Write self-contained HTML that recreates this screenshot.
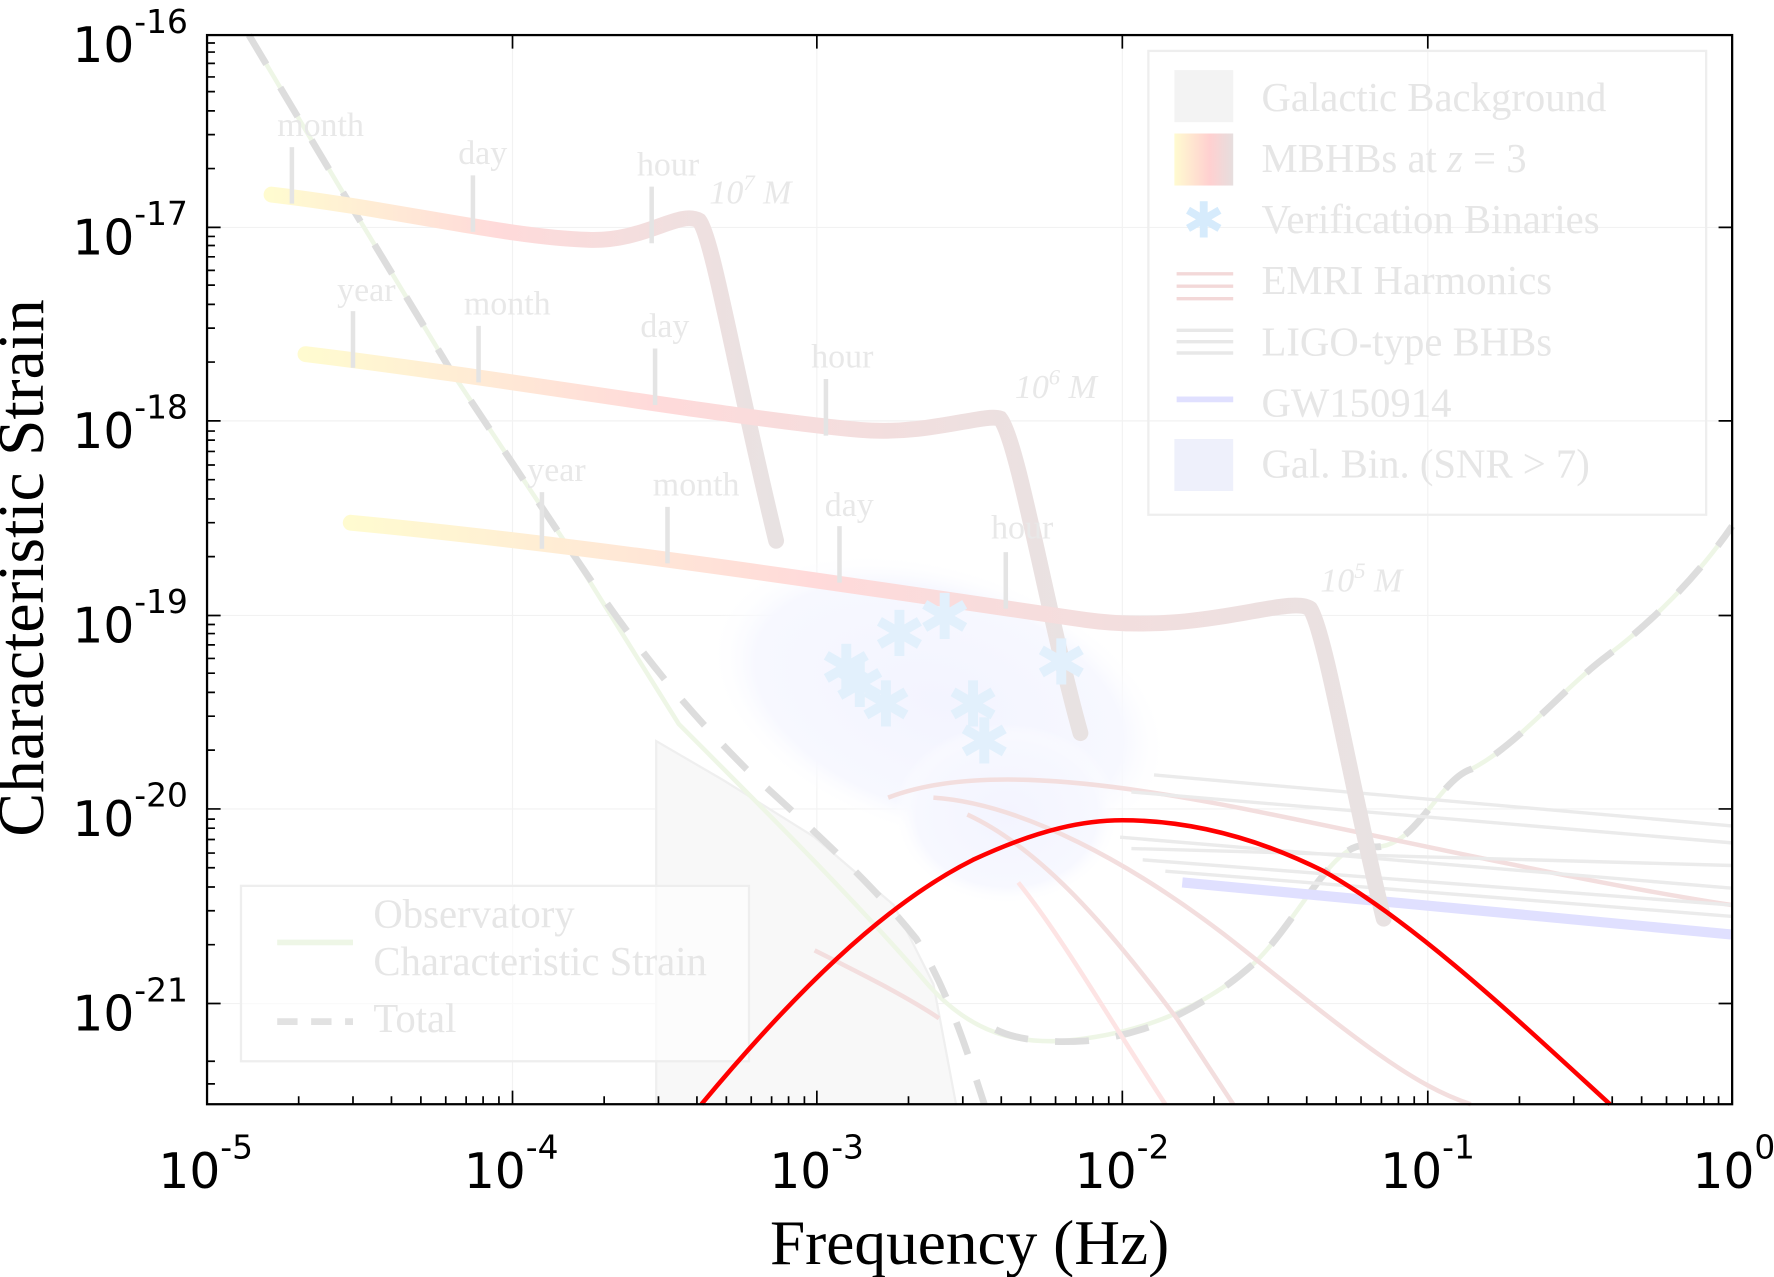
<!DOCTYPE html>
<html><head><meta charset="utf-8"><style>
html,body{margin:0;padding:0;background:#fff;}
svg{display:block;}
.tk{font-family:"DejaVu Sans","Liberation Sans",sans-serif;font-size:43px;fill:#000;}
.sp{font-size:29px;}
.ser{font-family:"Liberation Serif",serif;}
.fl{fill:#e8e8e8;font-family:"Liberation Serif",serif;font-size:30px;}
.lg{fill:#e6e6e6;font-family:"Liberation Serif",serif;font-size:36px;}
</style></head><body>
<svg width="1774" height="1277" viewBox="0 0 1774 1277" xmlns="http://www.w3.org/2000/svg">
<defs>
<linearGradient id="g1" x1="0" x2="1" y1="0" y2="0">
<stop offset="0" stop-color="#fffbd0"/><stop offset="0.45" stop-color="#ffdada"/><stop offset="1" stop-color="#e8e2e2"/></linearGradient>
<linearGradient id="lgmb" x1="0" x2="1"><stop offset="0" stop-color="#fffbd0"/><stop offset="0.6" stop-color="#ffd0d0"/><stop offset="1" stop-color="#e6dede"/></linearGradient>
<radialGradient id="cl" cx="0.5" cy="0.5" r="0.5"><stop offset="0" stop-color="#f3f4ff"/><stop offset="0.8" stop-color="#f7f8ff"/><stop offset="1" stop-color="#fff" stop-opacity="0"/></radialGradient>
</defs>
<g transform="scale(1.13138)">
<g stroke="#f2f2f2" stroke-width="1">
<line x1="183" x2="1531" y1="201" y2="201"/><line x1="183" x2="1531" y1="372" y2="372"/><line x1="183" x2="1531" y1="544" y2="544"/><line x1="183" x2="1531" y1="715" y2="715"/><line x1="183" x2="1531" y1="887" y2="887"/>
<line x1="453" x2="453" y1="31" y2="976"/><line x1="722" x2="722" y1="31" y2="976"/><line x1="992" x2="992" y1="31" y2="976"/><line x1="1262" x2="1262" y1="31" y2="976"/>
</g>
<polygon points="580,655 640,690 720,740 790,800 825,870 845,976 580,976" fill="#f8f8f8" stroke="#efefef" stroke-width="2"/>
<ellipse cx="830" cy="620" rx="210" ry="120" fill="url(#cl)" transform="rotate(18 830 620)"/>
<ellipse cx="890" cy="720" rx="100" ry="80" fill="url(#cl)"/>
<path d="M220,31 L300,165 L400,330 L500,480 L600,640 C680,720 760,800 820,870 C860,915 900,922 940,920 C1000,915 1060,895 1110,850 C1150,810 1180,740 1210,748 C1250,755 1270,690 1300,680 C1340,660 1380,610 1420,580 C1460,550 1500,510 1531,465" fill="none" stroke="#eef6e6" stroke-width="4"/>
<path d="M220,31 L300,165 L400,330 L500,480 C560,570 600,620 660,680 C720,735 770,780 810,830 C840,880 855,930 870,976" fill="none" stroke="#dddddd" stroke-width="6" stroke-dasharray="30,24"/>
<path d="M880,910 C900,920 930,922 960,920 C1010,915 1060,895 1110,850 C1150,810 1180,740 1210,748 C1250,755 1270,690 1300,680 C1340,660 1380,610 1420,580 C1460,550 1500,510 1531,465" fill="none" stroke="#dddddd" stroke-width="6" stroke-dasharray="30,24"/>
<g fill="none" stroke="#f3dede" stroke-width="4">
<path d="M785,705 C850,680 950,685 1100,715 S1400,780 1531,800"/>
<path d="M825,705 C900,710 1000,760 1100,840 S1250,960 1300,976"/>
<path d="M855,720 C920,750 980,820 1040,900 L1090,976"/>
<path d="M720,840 C760,860 800,880 830,900"/>
<path d="M900,780 C940,830 980,900 1030,976" stroke="#fde4e4"/>
</g>
<g stroke="#ebebeb" stroke-width="3">
<line x1="1020" y1="685" x2="1531" y2="730"/><line x1="1000" y1="700" x2="1531" y2="745"/>
<line x1="990" y1="740" x2="1531" y2="785"/><line x1="1010" y1="760" x2="1531" y2="800"/>
<line x1="1030" y1="770" x2="1531" y2="810"/><line x1="1000" y1="750" x2="1531" y2="765"/>
</g>
<line x1="1045" y1="780" x2="1531" y2="826" stroke="#e0e0ff" stroke-width="9"/>
<g fill="none" stroke-width="14" stroke-linecap="round">
<path d="M240,172 C350,185 450,210 520,212 C570,214 600,185 618,195 C630,210 650,330 686,478" stroke="url(#g1)"/>
<path d="M270,313 C450,335 650,370 760,380 C820,385 870,365 884,370 C900,390 925,540 955,648" stroke="url(#g1)"/>
<path d="M310,462 C550,485 800,525 960,548 C1060,562 1140,525 1158,538 C1172,560 1195,700 1223,812" stroke="url(#g1)"/>
</g>
<g stroke="#e4e4e4" stroke-width="4">
<line x1="258" y1="130" x2="258" y2="180"/><line x1="418" y1="155" x2="418" y2="205"/><line x1="576" y1="165" x2="576" y2="215"/>
<line x1="312" y1="275" x2="312" y2="325"/><line x1="423" y1="288" x2="423" y2="338"/><line x1="579" y1="308" x2="579" y2="358"/><line x1="730" y1="335" x2="730" y2="385"/>
<line x1="479" y1="435" x2="479" y2="485"/><line x1="590" y1="448" x2="590" y2="498"/><line x1="742" y1="465" x2="742" y2="515"/><line x1="889" y1="488" x2="889" y2="538"/>
</g>
<g class="fl">
<text x="245" y="120">month</text><text x="405" y="145">day</text><text x="563" y="155">hour</text><text x="627" y="180" font-style="italic">10<tspan dy="-12" font-size="20">7</tspan><tspan dy="12"> M</tspan></text>
<text x="298" y="266">year</text><text x="410" y="278">month</text><text x="566" y="298">day</text><text x="717" y="325">hour</text><text x="897" y="352" font-style="italic">10<tspan dy="-12" font-size="20">6</tspan><tspan dy="12"> M</tspan></text>
<text x="466" y="425">year</text><text x="577" y="438">month</text><text x="729" y="456">day</text><text x="876" y="476">hour</text><text x="1167" y="523" font-style="italic">10<tspan dy="-12" font-size="20">5</tspan><tspan dy="12"> M</tspan></text>
</g>
<g fill="#e2f0fc" font-family="DejaVu Sans" font-size="56" text-anchor="middle">
<text x="795" y="580">✱</text><text x="835" y="565">✱</text><text x="748" y="610">✱</text><text x="760" y="625">✱</text><text x="783" y="642">✱</text><text x="860" y="642">✱</text><text x="870" y="675">✱</text><text x="938" y="605">✱</text>
</g>
<rect x="1015" y="45" width="493" height="410" fill="none" stroke="#eeeeee" stroke-width="2"/>
<rect x="1038" y="62" width="52" height="46" fill="#f3f3f3"/>
<rect x="1038" y="118" width="52" height="46" fill="url(#lgmb)"/>
<text x="1064" y="210" fill="#d6ebfc" font-family="DejaVu Sans" font-size="44" text-anchor="middle">✱</text>
<g stroke="#f3d8d8" stroke-width="3"><line x1="1040" y1="242" x2="1090" y2="242"/><line x1="1040" y1="253" x2="1090" y2="253"/><line x1="1040" y1="264" x2="1090" y2="264"/></g>
<g stroke="#e8e8e8" stroke-width="3"><line x1="1040" y1="292" x2="1090" y2="292"/><line x1="1040" y1="302" x2="1090" y2="302"/><line x1="1040" y1="312" x2="1090" y2="312"/></g>
<line x1="1040" y1="353" x2="1090" y2="353" stroke="#e0e0ff" stroke-width="5"/>
<rect x="1038" y="388" width="52" height="46" fill="#eef0fb"/>
<g class="lg">
<text x="1115" y="98">Galactic Background</text>
<text x="1115" y="152">MBHBs at <tspan font-style="italic">z</tspan> = 3</text>
<text x="1115" y="206">Verification Binaries</text>
<text x="1115" y="260">EMRI Harmonics</text>
<text x="1115" y="314">LIGO-type BHBs</text>
<text x="1115" y="368">GW150914</text>
<text x="1115" y="422">Gal. Bin. (SNR &gt; 7)</text>
</g>
<rect x="213" y="783" width="449" height="155" fill="#fff" fill-opacity="0.6" stroke="#eeeeee" stroke-width="2"/>
<line x1="245" y1="833" x2="312" y2="833" stroke="#eef6e6" stroke-width="5"/>
<line x1="245" y1="903" x2="312" y2="903" stroke="#e2e2e2" stroke-width="6" stroke-dasharray="18,12"/>
<g class="lg"><text x="330" y="820">Observatory</text><text x="330" y="862">Characteristic Strain</text><text x="330" y="912">Total</text></g>
<path d="M620,976 C700,880 780,800 860,760 C920,732 960,725 992,725 C1050,725 1110,740 1170,770 C1250,815 1340,900 1423,976" fill="none" stroke="#ff0000" stroke-width="4"/>
<rect x="183" y="31" width="1348" height="945" fill="none" stroke="#000" stroke-width="2"/>
<g stroke="#000" stroke-width="1.5">
<path d="M453,976v-12M722,976v-12M992,976v-12M1262,976v-12M453,31v12M722,31v12M992,31v12M1262,31v12
M183,201h12M183,372h12M183,544h12M183,715h12M183,887h12M1531,201h-12M1531,372h-12M1531,544h-12M1531,715h-12M1531,887h-12"/>
<path d="M264,976v-7M312,976v-7M346,976v-7M372,976v-7M394,976v-7M412,976v-7M427,976v-7M441,976v-7
M534,976v-7M582,976v-7M616,976v-7M642,976v-7M664,976v-7M682,976v-7M697,976v-7M711,976v-7
M803,976v-7M851,976v-7M885,976v-7M911,976v-7M933,976v-7M951,976v-7M966,976v-7M980,976v-7
M1073,976v-7M1121,976v-7M1155,976v-7M1181,976v-7M1203,976v-7M1221,976v-7M1236,976v-7M1250,976v-7
M1343,976v-7M1391,976v-7M1425,976v-7M1451,976v-7M1473,976v-7M1491,976v-7M1506,976v-7M1519,976v-7"/>
<path d="M183,149h7M183,119h7M183,98h7M183,81h7M183,68h7M183,56h7M183,46h7M183,38h7
M183,320h7M183,290h7M183,269h7M183,252h7M183,239h7M183,227h7M183,217h7M183,209h7
M183,492h7M183,462h7M183,441h7M183,424h7M183,411h7M183,399h7M183,389h7M183,381h7
M183,663h7M183,633h7M183,612h7M183,595h7M183,582h7M183,570h7M183,560h7M183,552h7
M183,835h7M183,805h7M183,784h7M183,767h7M183,754h7M183,742h7M183,732h7M183,724h7
M183,938h7M183,958h7"/>
</g>
<g class="tk">
<text x="140" y="1050">10<tspan class="sp" dy="-26">-5</tspan></text>
<text x="410" y="1050">10<tspan class="sp" dy="-26">-4</tspan></text>
<text x="680" y="1050">10<tspan class="sp" dy="-26">-3</tspan></text>
<text x="950" y="1050">10<tspan class="sp" dy="-26">-2</tspan></text>
<text x="1220" y="1050">10<tspan class="sp" dy="-26">-1</tspan></text>
<text x="1496" y="1050">10<tspan class="sp" dy="-26">0</tspan></text>
<text x="64" y="55">10<tspan class="sp" dy="-26">-16</tspan></text>
<text x="64" y="225">10<tspan class="sp" dy="-26">-17</tspan></text>
<text x="64" y="396">10<tspan class="sp" dy="-26">-18</tspan></text>
<text x="64" y="568">10<tspan class="sp" dy="-26">-19</tspan></text>
<text x="64" y="739">10<tspan class="sp" dy="-26">-20</tspan></text>
<text x="64" y="911">10<tspan class="sp" dy="-26">-21</tspan></text>
</g>
<text x="857" y="1117" text-anchor="middle" class="ser" font-size="56">Frequency (Hz)</text>
<text transform="translate(38,502) rotate(-90)" text-anchor="middle" class="ser" font-size="58">Characteristic Strain</text>
</g>
</svg>
</body></html>
